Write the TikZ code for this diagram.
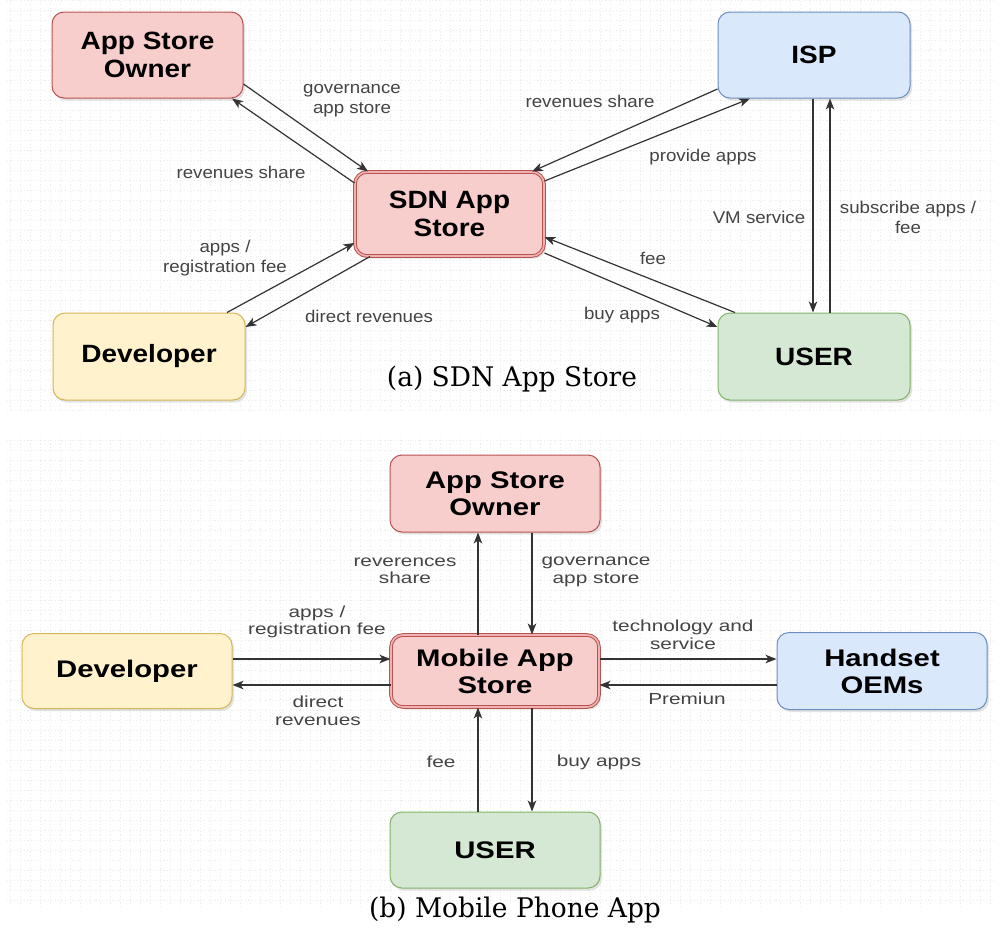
\documentclass[tikz,border=0pt]{standalone}
\usepackage{fontspec}
\setmainfont{Liberation Sans}
\newfontfamily\boxfontA{Liberation Sans}[FakeStretch=1.12]
\newfontfamily\boxfontB{Liberation Sans}[FakeStretch=1.22]
\newfontfamily\labfontA{Liberation Sans}[FakeStretch=1.10]
\newfontfamily\labfontB{Liberation Sans}[FakeStretch=1.30]
\newfontfamily\capfont{DejaVu Serif}[FakeStretch=0.98]
\usetikzlibrary{arrows.meta,shadows}

\definecolor{redfill}{HTML}{F8CECC}
\definecolor{redline}{HTML}{B85450}
\definecolor{reddouble}{HTML}{EFB2B0}
\definecolor{bluefill}{HTML}{DAE8FC}
\definecolor{blueline}{HTML}{6C8EBF}
\definecolor{yelfill}{HTML}{FFF2CC}
\definecolor{yelline}{HTML}{D6B656}
\definecolor{grnfill}{HTML}{D5E8D4}
\definecolor{grnline}{HTML}{82B366}
\definecolor{labtext}{HTML}{444444}
\definecolor{wire}{HTML}{333333}

\tikzset{
  box/.style={rounded corners=12pt, line width=1pt, align=center, inner sep=0pt,
    drop shadow={opacity=0.22, shadow xshift=2pt, shadow yshift=-2.5pt}},
  boxA/.style={box, font=\boxfontA\bfseries\fontsize{25}{28}\selectfont},
  boxB/.style={box, font=\boxfontB\bfseries\fontsize{24}{27}\selectfont},
  redbox/.style={fill=redfill, draw=redline},
  hubbox/.style={fill=redfill, draw=redline, double=reddouble, double distance=1.6pt},
  bluebox/.style={fill=bluefill, draw=blueline},
  yelbox/.style={fill=yelfill, draw=yelline},
  grnbox/.style={fill=grnfill, draw=grnline},
  conn/.style={draw=wire, line width=1.2pt,
    -{Stealth[length=11pt,width=8.5pt,inset=3pt]}},
  labA/.style={font=\labfontA\fontsize{17}{20}\selectfont, text=labtext, align=center, inner sep=1pt},
  labB/.style={font=\labfontB\fontsize{16}{17.5}\selectfont, text=labtext, align=center, inner sep=1pt},
  capt/.style={font=\capfont\fontsize{27}{30}\selectfont, inner sep=0pt, anchor=base},
  gridbg/.style={draw=black!7, line width=0.6pt, dash pattern=on 1.2pt off 2.2pt}
}

\begin{document}
\begin{tikzpicture}[x=1pt,y=-1pt]
\useasboundingbox (0,0) rectangle (1001,932);
\fill[white] (0,0) rectangle (1001,932);

% faint drawing-canvas grids behind both diagrams
\draw[gridbg, step=10pt] (7,0) grid (995,410);
\draw[gridbg, step=10pt] (7,437) grid (995,907);

% ---------- (a) SDN App Store ----------
\node[boxA, redbox, minimum width=191pt, minimum height=86pt] (ownerA) at (147.5,55) {App Store\\Owner};
\node[boxA, hubbox, minimum width=189pt, minimum height=84pt] (sdnA) at (449.5,214) {SDN App\\Store};
\node[boxA, bluebox, minimum width=192pt, minimum height=86pt] (ispA) at (814,55) {ISP};
\node[boxA, yelbox, minimum width=192pt, minimum height=87pt] (devA) at (149,356.5) {Developer};
\node[boxA, grnbox, minimum width=192pt, minimum height=87pt] (userA) at (814,356.5) {USER};

\draw[conn] ([yshift=-29pt]ownerA.east) -- ([xshift=-81.5pt]sdnA.north);
\draw[conn] ([yshift=31pt]sdnA.west) -- ([xshift=84.5pt]ownerA.south);
\draw[conn] ([xshift=78pt]devA.north) -- ([yshift=-29pt]sdnA.west);
\draw[conn] ([xshift=-79.5pt]sdnA.south) -- ([yshift=29.5pt]devA.east);
\draw[conn] ([yshift=33pt]sdnA.east) -- ([xshift=-64pt]ispA.south);
\draw[conn] ([yshift=-34pt]ispA.west) -- ([xshift=82.5pt]sdnA.north);
\draw[conn] ([xshift=-79pt]userA.north) -- ([yshift=-23pt]sdnA.east);
\draw[conn] ([yshift=-39pt]sdnA.east) -- ([yshift=29.5pt]userA.west);
\draw[conn] ([xshift=-1pt]ispA.south) -- ([xshift=-1pt]userA.north);
\draw[conn] ([xshift=16pt]userA.north) -- ([xshift=16pt]ispA.south);

\node[labA] (govA) at (352,101) {governance\\app store};
\node[labA] (revA1) at (241,172) {revenues share};
\node[labA] (appsA) at (225,258) {apps /\\registration fee};
\node[labA] (dirA) at (369,316) {direct revenues};
\node[labA] (revA2) at (590,101) {revenues share};
\node[labA] (provA) at (703,157) {provide apps};
\node[labA] (feeA) at (653,258) {fee};
\node[labA] (buyA) at (622,315) {buy apps};
\node[labA] (vmA) at (759,217) {VM service};
\node[labA] (subA) at (908,217) {subscribe apps /\\fee};

\node[capt] (captA) at (512,386) {(a) SDN App Store};

% ---------- (b) Mobile Phone App ----------
\node[boxB, redbox, minimum width=210pt, minimum height=77pt] (ownerB) at (495,493.5) {App Store\\Owner};
\node[boxB, hubbox, minimum width=208pt, minimum height=72pt] (mobB) at (495,671) {Mobile App\\Store};
\node[boxB, yelbox, minimum width=210pt, minimum height=75pt] (devB) at (127,671) {Developer};
\node[boxB, bluebox, minimum width=210pt, minimum height=77pt] (hsB) at (882,671) {Handset\\OEMs};
\node[boxB, grnbox, minimum width=210pt, minimum height=76pt] (userB) at (495,850) {USER};

\draw[conn] ([xshift=-17pt]mobB.north) -- ([xshift=-17pt]ownerB.south);
\draw[conn] ([xshift=37pt]ownerB.south) -- ([xshift=37pt]mobB.north);
\draw[conn] ([yshift=12pt]devB.east) -- ([yshift=12pt]mobB.west);
\draw[conn] ([yshift=-14pt]mobB.west) -- ([yshift=-14pt]devB.east);
\draw[conn] ([yshift=12pt]mobB.east) -- ([yshift=12pt]hsB.west);
\draw[conn] ([yshift=-14pt]hsB.west) -- ([yshift=-14pt]mobB.east);
\draw[conn] ([xshift=-17pt]userB.north) -- ([xshift=-17pt]mobB.south);
\draw[conn] ([xshift=37pt]mobB.south) -- ([xshift=37pt]userB.north);

\node[labB] (revB) at (405,571) {reverences\\share};
\node[labB] (govB) at (596,572) {governance\\app store};
\node[labB] (appsB) at (317,622) {apps /\\registration fee};
\node[labB] (dirB) at (318,711) {direct\\revenues};
\node[labB] (techB) at (683,635) {technology and\\service};
\node[labB] (premB) at (687,699) {Premiun};
\node[labB] (feeB) at (441,762) {fee};
\node[labB] (buyB) at (599,762) {buy apps};

\node[capt] (captB) at (515,917) {(b) Mobile Phone App};
\end{tikzpicture}
\end{document}
